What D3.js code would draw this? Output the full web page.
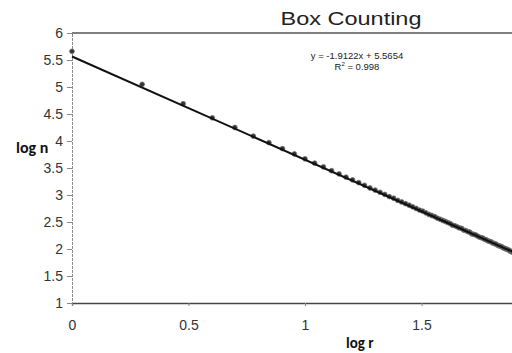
<!DOCTYPE html>
<html>
<head>
<meta charset="utf-8">
<style>
    body { margin: 0; background: #fff; }
    svg { display: block; font-family: 'Liberation Sans', Arial, sans-serif; }
</style>
</head>
<body>
<svg width="512" height="353"></svg>
<script src="https://cdn.jsdelivr.net/npm/d3@7"></script>
<script>
// box sizes r and counts (log n)
let boxSizes = [1, 2, 3, 4, 5, 6, 7, 8, 9, 10,
    11, 12, 13, 14, 15, 16, 17, 18, 19, 20,
    21, 22, 23, 24, 25, 26, 27, 28, 29, 30,
    31, 32, 33, 34, 35, 36, 37, 38, 39, 40,
    41, 42, 43, 44, 45, 46, 47, 48, 49, 50,
    51, 52, 53, 54, 55, 56, 57, 58, 59, 60,
    61, 62, 63, 64, 65, 66, 67, 68, 69, 70,
    71, 72, 73, 74, 75, 76, 77, 78, 79, 80]
let logN = [5.66, 5.05, 4.69, 4.43, 4.25, 4.09, 3.97, 3.86, 3.76, 3.67,
    3.59, 3.52, 3.45, 3.39, 3.33, 3.28, 3.23, 3.18, 3.13, 3.09,
    3.05, 3.01, 2.97, 2.94, 2.90, 2.87, 2.84, 2.81, 2.78, 2.75,
    2.72, 2.70, 2.67, 2.64, 2.62, 2.60, 2.57, 2.55, 2.53, 2.51,
    2.49, 2.47, 2.44, 2.43, 2.41, 2.39, 2.38, 2.35, 2.34, 2.32,
    2.31, 2.28, 2.27, 2.26, 2.24, 2.22, 2.21, 2.20, 2.18, 2.17,
    2.15, 2.14, 2.13, 2.11, 2.10, 2.09, 2.07, 2.06, 2.05, 2.04,
    2.02, 2.01, 2.00, 1.99, 1.98, 1.96, 1.95, 1.94, 1.93, 1.92]

let xTicks = [0, 0.5, 1, 1.5]
let yTicks = [1, 1.5, 2, 2.5, 3, 3.5, 4, 4.5, 5, 5.5, 6]

let slope = -1.9122
let intercept = 5.5654

let svg = d3.select("svg")

let x = d3.scaleLinear().domain([0, 2]).range([72, 538])
let y = d3.scaleLinear().domain([1, 6]).range([303, 33])

let points = boxSizes.map((r, i) => ({ x: Math.log10(r), y: logN[i] }))

// top border
svg.append("line")
    .attr("x1", x(0)).attr("x2", 512)
    .attr("y1", y(6)).attr("y2", y(6))
    .attr("stroke", "#555").attr("stroke-width", 1.3)

// x axis
let xAxis = svg.append("g")
    .attr("transform", `translate(0,${y(1)})`)
    .call(d3.axisBottom(x).tickValues(xTicks).tickSize(3).tickFormat(d => d))
xAxis.select(".domain").attr("stroke", "#444").attr("stroke-width", 1.3)
xAxis.selectAll(".tick line").attr("stroke", "#888")
xAxis.selectAll("text")
    .attr("y", 17)
    .attr("font-size", 14)
    .attr("fill", "#333")
    .attr("font-family", "'Liberation Sans', Arial, sans-serif")

// y axis
let yAxis = svg.append("g")
    .attr("transform", `translate(${x(0)},0)`)
    .call(d3.axisLeft(y).tickValues(yTicks).tickSize(5).tickFormat(d => d))
yAxis.select(".domain").attr("stroke", "#888").attr("stroke-dasharray", "3,1")
yAxis.selectAll(".tick line").attr("stroke", "#888")
yAxis.selectAll("text")
    .attr("x", -9)
    .attr("font-size", 14)
    .attr("fill", "#333")
    .attr("font-family", "'Liberation Sans', Arial, sans-serif")

// data points
svg.append("g")
    .selectAll("circle")
    .data(points)
    .join("circle")
    .attr("cx", d => x(d.x))
    .attr("cy", d => y(d.y))
    .attr("r", 2.4)
    .attr("fill", "#333")
    .attr("stroke", "#777")
    .attr("stroke-width", 0.8)

// trend line
svg.append("line")
    .attr("x1", x(0)).attr("y1", y(intercept))
    .attr("x2", x(2)).attr("y2", y(intercept + slope * 2))
    .attr("stroke", "#111")
    .attr("stroke-width", 2)

// title
svg.append("text")
    .attr("x", 351).attr("y", 25)
    .attr("text-anchor", "middle")
    .attr("font-size", 18)
    .attr("textLength", 141)
    .attr("lengthAdjust", "spacingAndGlyphs")
    .attr("fill", "#222")
    .text("Box Counting")

// equation
svg.append("text")
    .attr("x", 357).attr("y", 59)
    .attr("text-anchor", "middle")
    .attr("font-size", 9.5)
    .attr("fill", "#222")
    .text("y = -1.9122x + 5.5654")
let r2 = svg.append("text")
    .attr("x", 357).attr("y", 70)
    .attr("text-anchor", "middle")
    .attr("font-size", 9.5)
    .attr("fill", "#222")
r2.append("tspan").text("R")
r2.append("tspan").attr("dy", -4).attr("font-size", 6).text("2")
r2.append("tspan").attr("dy", 4).text(" = 0.998")

// axis titles
svg.append("text")
    .attr("x", 16).attr("y", 153)
    .attr("font-family", "Carlito, Calibri, 'Liberation Sans', sans-serif")
    .attr("font-weight", "bold")
    .attr("font-size", 16)
    .attr("fill", "#111")
    .text("log n")
svg.append("text")
    .attr("x", 346).attr("y", 348)
    .attr("font-family", "Carlito, Calibri, 'Liberation Sans', sans-serif")
    .attr("font-weight", "bold")
    .attr("font-size", 15)
    .attr("fill", "#111")
    .text("log r")
</script>
</body>
</html>
